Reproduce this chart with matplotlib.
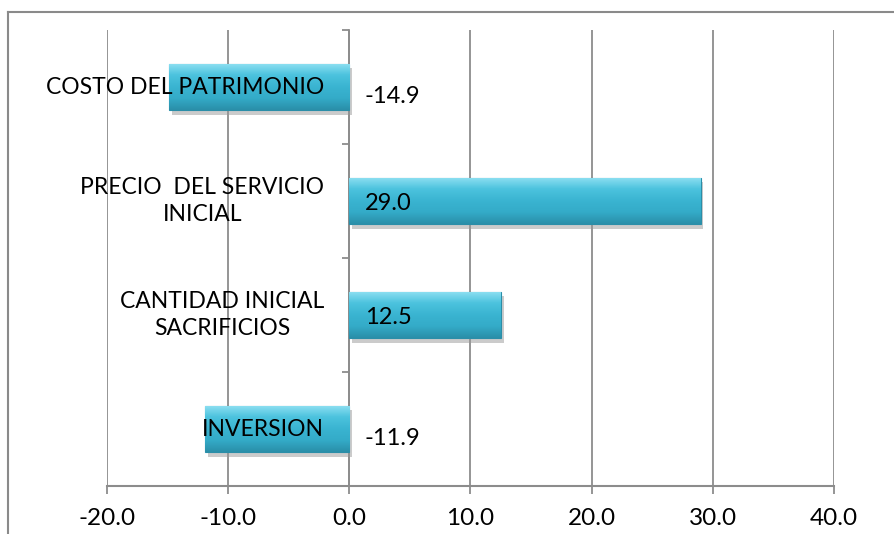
import matplotlib
matplotlib.use("Agg")
import matplotlib.pyplot as plt
import numpy as np
from matplotlib.colors import LinearSegmentedColormap
from matplotlib.lines import Line2D
import matplotlib.patheffects as pe

categories = ["COSTO DEL PATRIMONIO", "PRECIO  DEL SERVICIO\nINICIAL",
              "CANTIDAD INICIAL\nSACRIFICIOS", "INVERSION"]
values = [-14.9, 29.0, 12.5, -11.9]
xticks = [-20, -10, 0, 10, 20, 30, 40]
xtick_labels = ["-20.0", "-10.0", "0.0", "10.0", "20.0", "30.0", "40.0"]

plt.rcParams['font.family'] = ['Lato', 'DejaVu Sans']
W, H, DPI = 895, 534, 100
fig = plt.figure(figsize=(W / DPI, H / DPI), dpi=DPI)
fig.patch.set_facecolor("white")

# outer chart border (left and top visible)
fig.add_artist(Line2D([8 / W, 8 / W], [0, 1 - 12 / H], transform=fig.transFigure,
                      color="#8a8a8a", lw=1.5))
fig.add_artist(Line2D([8 / W, 1], [1 - 12 / H, 1 - 12 / H], transform=fig.transFigure,
                      color="#8a8a8a", lw=1.5))

ax = fig.add_axes([107 / W, 1 - 486 / H, (834 - 107) / W, (486 - 30) / H])
grid_c = "#8c8c8c"
ax.set_xlim(-20, 40)
ax.set_ylim(3.5, -0.5)
ax.set_xticks(xticks)
ax.set_xticklabels(xtick_labels, fontsize=17.5)
ax.set_yticks([-0.5, 0.5, 1.5, 2.5, 3.5])
ax.set_yticklabels([])
ax.tick_params(axis="x", length=6, width=1.3, color=grid_c, pad=10, direction="out")
ax.tick_params(axis="y", length=5, width=1.3, color=grid_c, direction="out")
for s in ["top", "right"]:
    ax.spines[s].set_visible(False)
ax.spines["left"].set_position(("data", 0))
ax.spines["left"].set_color(grid_c)
ax.spines["left"].set_linewidth(1.3)
ax.spines["bottom"].set_color(grid_c)
ax.spines["bottom"].set_linewidth(1.5)
ax.xaxis.grid(True, color=grid_c, lw=1.3)
ax.set_axisbelow(True)

ypos = np.arange(len(categories))
bars = ax.barh(ypos, values, height=0.41, color="#38b2ce", edgecolor="#2b8ea8",
               linewidth=0.8, zorder=3,
               path_effects=[pe.SimplePatchShadow(offset=(2, -3), shadow_rgbFace="#999999",
                                                  alpha=0.5), pe.Normal()])

cmap = LinearSegmentedColormap.from_list(
    "bev", ["#8fe0f2", "#4cc3de", "#3ab4d1", "#34abc8", "#2a8fa9"])
grad = np.linspace(0, 1, 100).reshape(-1, 1)
for b in bars:
    x0, y0, w, h = b.get_x(), b.get_y(), b.get_width(), b.get_height()
    im = ax.imshow(grad, cmap=cmap, aspect="auto", zorder=3.5,
                   extent=[x0, x0 + w, y0 + h, y0], origin="upper")
    im.set_clip_path(b)

ax.set_xlim(-20, 40)
ax.set_ylim(3.5, -0.5)

# category labels near zero axis
for y, lab in zip(ypos, categories):
    ax.annotate(lab, xy=(0, y), xytext=(-18, 0), textcoords="offset points",
                ha="right", va="center", multialignment="center",
                fontsize=16.5, linespacing=1.3, zorder=5)

# value labels
for y, v in zip(ypos, values):
    dy = -7 if v < 0 else -1.5
    ax.annotate(f"{v:.1f}", xy=(0, y), xytext=(11, dy), textcoords="offset points",
                ha="left", va="center", fontsize=17, zorder=5)

fig.savefig("out.png", dpi=DPI)
